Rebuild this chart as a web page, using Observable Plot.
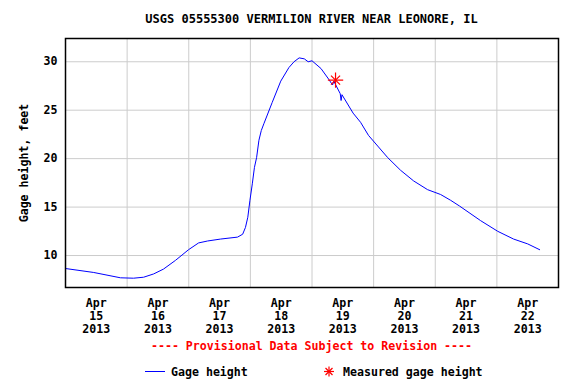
<!DOCTYPE html>
<html><head><meta charset="utf-8">
<script src="https://cdn.jsdelivr.net/npm/d3@7"></script>
<script src="https://cdn.jsdelivr.net/npm/@observablehq/plot@0.6"></script>
<style>
body{margin:0;background:#fff;font-family:"DejaVu Sans Mono",monospace;font-weight:bold;color:#000}
#wrap{width:576px;height:384px;position:relative;overflow:hidden}
#title{position:absolute;left:65px;width:493px;top:11px;text-align:center;font-size:12px;line-height:16px}
#chart{position:absolute;top:28px;left:0}
#prov{position:absolute;top:338px;left:65px;width:493px;text-align:center;color:#ff0000;font-size:11.6px;line-height:16px}
#legend{position:absolute;top:364px;left:0;width:576px;height:18px;font-size:11.6px;line-height:16px}
#legend span{position:absolute;top:0}
#legend svg{position:absolute}
</style></head>
<body>
<div id="wrap">
<div id="title"></div>
<div id="chart"></div>
<div id="prov"></div>
<div id="legend">
<svg style="left:145px;top:0" width="22" height="16"><line x1="0" y1="7.5" x2="20" y2="7.5" stroke="#0000ff" stroke-width="1"/></svg>
<span id="lg1" style="left:171px"></span>
<svg style="left:322px;top:0" width="14" height="16"><g stroke="#ff0000" stroke-width="1.2"><line x1="2" y1="7.5" x2="12" y2="7.5"/><line x1="7" y1="2.5" x2="7" y2="12.5"/><line x1="3.5" y1="4" x2="10.5" y2="11"/><line x1="10.5" y1="4" x2="3.5" y2="11"/></g></svg>
<span id="lg2" style="left:343px"></span>
</div>
</div>
<script>
const titleText = "USGS 05555300 VERMILION RIVER NEAR LEONORE, IL";
const yLabel = "Gage height, feet";
const provText = "---- Provisional Data Subject to Revision ----";
const seriesName = "Gage height";
const measuredName = "Measured gage height";

const times = [
 "2013-04-15T00:00Z","2013-04-15T11:00Z","2013-04-15T21:25Z","2013-04-16T02:30Z","2013-04-16T06:25Z",
 "2013-04-16T10:20Z","2013-04-16T14:10Z","2013-04-16T18:50Z","2013-04-16T23:55Z","2013-04-17T03:50Z",
 "2013-04-17T07:20Z","2013-04-17T12:25Z","2013-04-17T19:00Z","2013-04-17T21:00Z","2013-04-17T22:05Z",
 "2013-04-17T23:00Z","2013-04-17T23:50Z","2013-04-18T00:45Z","2013-04-18T01:35Z","2013-04-18T02:25Z",
 "2013-04-18T03:20Z","2013-04-18T04:15Z","2013-04-18T05:15Z","2013-04-18T06:35Z","2013-04-18T08:30Z",
 "2013-04-18T11:50Z","2013-04-18T15:00Z","2013-04-18T17:00Z","2013-04-18T19:00Z","2013-04-18T21:00Z",
 "2013-04-18T22:30Z","2013-04-19T00:00Z","2013-04-19T03:30Z","2013-04-19T06:30Z","2013-04-19T08:00Z",
 "2013-04-19T08:30Z","2013-04-19T11:00Z","2013-04-19T11:20Z","2013-04-19T11:40Z","2013-04-19T16:00Z",
 "2013-04-19T18:55Z","2013-04-19T22:00Z","2013-04-20T01:35Z","2013-04-20T05:30Z","2013-04-20T10:30Z",
 "2013-04-20T15:35Z","2013-04-20T21:00Z","2013-04-21T02:05Z","2013-04-21T06:00Z","2013-04-21T09:30Z",
 "2013-04-21T17:40Z","2013-04-22T00:20Z","2013-04-22T06:30Z","2013-04-22T12:00Z","2013-04-22T16:40Z"
];
const gageHeight = [
 8.66, 8.25, 7.7, 7.66, 7.76,
 8.1, 8.6, 9.5, 10.6, 11.3,
 11.5, 11.7, 11.9, 12.2, 12.9,
 13.95, 15.7, 17.4, 19.1, 20.1,
 21.9, 22.9, 23.6, 24.5, 25.8,
 28.0, 29.4, 30.0, 30.4, 30.3,
 30.0, 30.1, 29.3, 28.2, 27.6,
 28.0, 26.7, 26.0, 26.6, 24.7,
 23.75, 22.4, 21.3, 20.1, 18.8,
 17.7, 16.8, 16.3, 15.7, 15.1,
 13.6, 12.5, 11.7, 11.2, 10.6
];
const measuredTimes = ["2013-04-19T09:10Z"];
const measuredValues = [28.1];

const dayStarts = ["2013-04-15","2013-04-16","2013-04-17","2013-04-18","2013-04-19","2013-04-20","2013-04-21","2013-04-22","2013-04-23"];
const yTicks = [10, 15, 20, 25, 30];

document.getElementById("title").textContent = titleText;
document.getElementById("prov").textContent = provText;
document.getElementById("lg1").textContent = seriesName;
document.getElementById("lg2").textContent = measuredName;

const data = times.map((t, i) => ({t: new Date(t), v: gageHeight[i]}));
const meas = measuredTimes.map((t, i) => ({t: new Date(t), v: measuredValues[i]}));
const mids = dayStarts.map(d => new Date(d + "T00:00Z"));
const noons = dayStarts.slice(0, 8).map(d => new Date(d + "T12:00Z"));
const fmt = d3.utcFormat("%b\n%-d\n%Y");

const chart = Plot.plot({
  width: 576, height: 307,
  marginLeft: 65, marginRight: 18, marginTop: 10, marginBottom: 48,
  style: {fontFamily: '"DejaVu Sans Mono", monospace', fontWeight: "bold", fontSize: "11.6px", color: "#000", background: "#fff"},
  x: {type: "utc", domain: [mids[0], mids[8]]},
  y: {domain: [6.7, 32.4]},
  marks: [
    Plot.gridX(mids.slice(1, 8), {stroke: "#cccccc", strokeOpacity: 1}),
    Plot.gridY(yTicks, {stroke: "#cccccc", strokeOpacity: 1}),
    Plot.axisX(noons, {tickSize: 0, tickPadding: 11, tickFormat: d => fmt(d), lineHeight: 1.09, fontSize: 11.6, label: null}),
    Plot.axisY(yTicks, {tickSize: 0, tickPadding: 8, fontSize: 11.6, label: yLabel, labelAnchor: "center", labelArrow: "none", labelOffset: 46}),
    Plot.line(data, {x: "t", y: "v", stroke: "#0000ff", strokeWidth: 1}),
    Plot.dot(meas, {x: "t", y: "v", symbol: "plus", r: 5, stroke: "#ff0000", strokeWidth: 1.2}),
    Plot.dot(meas, {x: "t", y: "v", symbol: "times", r: 4.2, stroke: "#ff0000", strokeWidth: 1.2}),
    Plot.frame({stroke: "#000", strokeWidth: 1.5})
  ]
});
document.getElementById("chart").appendChild(chart);
</script>
</body></html>
